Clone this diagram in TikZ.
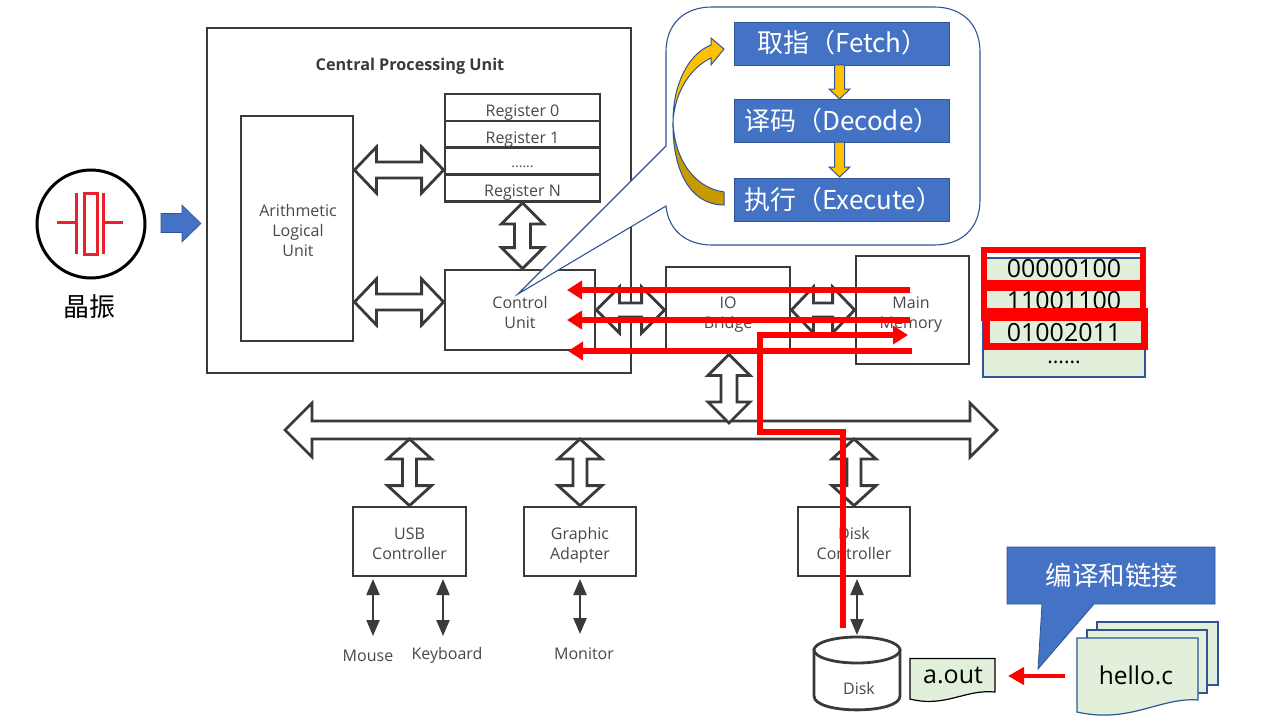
\documentclass[tikz,border=0pt]{standalone}
\usepackage{fontspec}
\setmainfont{Open Sans}
\newfontfamily\cjk{Noto Sans CJK SC}
\usetikzlibrary{calc,arrows.meta}
\definecolor{ink}{HTML}{3A3A3A}
\definecolor{txt}{HTML}{484848}
\definecolor{blu}{HTML}{4472C4}
\definecolor{blb}{HTML}{2F5597}
\definecolor{grn}{HTML}{E2EFDA}
\definecolor{gold}{HTML}{FFC000}
\definecolor{dgold}{HTML}{C99A00}
\definecolor{xred}{HTML}{E8212E}
\newcommand\dblarrow[5]{%
  \coordinate (A) at (#1); \coordinate (B) at (#2);
  \coordinate (sa) at ($(A)!#5!(B)$); \coordinate (sb) at ($(B)!#5!(A)$);
  \draw[dblshape] (A) -- ($(sa)!#3!90:(B)$) -- ($(sa)!#4!90:(B)$) -- ($(sb)!#4!-90:(A)$) -- ($(sb)!#3!-90:(A)$) -- (B)
    -- ($(sb)!#3!90:(A)$) -- ($(sb)!#4!90:(A)$) -- ($(sa)!#4!-90:(B)$) -- ($(sa)!#3!-90:(B)$) -- cycle;}
\tikzset{
  box/.style={draw=ink,line width=2.8pt,fill=white,inner sep=0pt},
  lbl/.style={text=txt,font=\fontsize{16}{20}\selectfont,inner sep=0pt,align=center},
  regcell/.style={box,minimum width=155pt,minimum height=27pt},
  dblshape/.style={draw=ink,line width=2.8pt,fill=white,miter limit=10},
  stage/.style={draw=blb,line width=0.8pt,fill=blu,inner sep=0pt,minimum width=215pt,minimum height=43pt},
  stagetext/.style={anchor=west,inner sep=0pt,text=white,font=\cjk\fontsize{26}{30}\selectfont},
  goldshape/.style={draw=blb,line width=1pt,fill=gold},
  rarr/.style={draw=red,line width=5.5pt,-{Triangle[length=15pt,width=18pt]}},
  small/.style={draw=ink,line width=2.2pt,{Triangle[length=16pt,width=13pt]}-{Triangle[length=16pt,width=13pt]}},
  redbox/.style={draw=red,line width=6pt,inner sep=0pt},
  doc/.style={fill=grn,line width=1.2pt},
  big/.style={inner sep=0pt,font=\fontsize{25}{28}\selectfont,text=black},
}
\begin{document}
\begin{tikzpicture}[x=1pt,y=-1pt]
\useasboundingbox (0,0) rectangle (1268,725);
% oscillator
\node[circle,draw=black,line width=3pt,minimum size=108pt,inner sep=0pt] (osc) at (91,224) {};
\draw[xred,line width=3pt] (57,222) -- (76,222) (76,193) -- (76,254) (84,193) rectangle (97,254) (103,193) -- (103,254) (103,222) -- (123,222);
\node[inner sep=0pt,font=\cjk\fontsize{26}{30}\selectfont,text=black] (osclabel) at (89,307) {晶振};
\draw[fill=blu,draw=blb,line width=0.6pt] (161,213.5) -- (182,213.5) -- (182,205) -- (201,223.5) -- (182,242) -- (182,232.5) -- (161,232.5) -- cycle;
% CPU
\node[box,minimum width=424pt,minimum height=345pt] (cpu) at (419,200.5) {};
\node[lbl,text=ink,font=\bfseries\fontsize{16.2}{20}\selectfont] (cputitle) at (410,66) {Central Processing Unit};
\node[box,minimum width=112pt,minimum height=225pt] (alu) at (297,228.5) {};
\node[lbl] (alut) at (298,230.5) {Arithmetic\\Logical\\Unit};
\node[regcell] (r0) at (522.5,107.5) {};
\node[regcell] (r1) at (522.5,134.5) {};
\node[regcell] (r2) at (522.5,161) {};
\node[regcell] (rn) at (522.5,188) {};
\node[lbl] (r0t) at (522.5,113) {Register 0};
\node[lbl] (r1t) at (522.5,140) {Register 1};
\node[lbl,font=\fontsize{14}{16}\selectfont] (r2t) at (522.5,167) {......};
\node[lbl] (rnt) at (522.5,192.5) {Register N};
\node[box,minimum width=150pt,minimum height=80pt] (cu) at (520,310) {};
\node[lbl] (cut) at (520,312) {Control\\Unit};
\coordinate (ya) at (0,170); \coordinate (yb) at (0,302);
\dblarrow{alu.east |- ya}{r2.west |- ya}{23pt}{8pt}{22pt}
\dblarrow{alu.east |- yb}{cu.west |- yb}{23pt}{8pt}{22pt}
\dblarrow{rn.south}{rn.south |- cu.north}{21pt}{8pt}{21pt}
% IO / memory
\node[box,minimum width=124pt,minimum height=86pt] (io) at (728,310) {};
\node[lbl] (iot) at (728,315) {IO\\Bridge};
\node[box,minimum width=113pt,minimum height=108pt] (mem) at (912.5,310) {};
\node[lbl] (memt) at (911,315) {Main\\Memory};
\dblarrow{cu.east}{io.west}{23pt}{7pt}{23pt}
\dblarrow{io.east}{mem.west}{23pt}{7pt}{22pt}
% bus
\coordinate (busl) at (285,430); \coordinate (busr) at (997,430);
\dblarrow{busl}{busr}{27pt}{9pt}{27pt}
\coordinate (bustop) at (729,423);
\dblarrow{bustop}{io.south -| bustop}{21pt}{8pt}{21pt}
% controllers
\node[box,minimum width=113pt,minimum height=69pt] (usb) at (409.5,541.5) {};
\node[box,minimum width=112pt,minimum height=69pt] (gfx) at (580,541.5) {};
\node[box,minimum width=112pt,minimum height=69pt] (dc) at (854,541.5) {};
\node[lbl] (usbt) at (409.5,543.5) {USB\\Controller};
\node[lbl] (gfxt) at (580,545) {Graphic\\Adapter};
\node[lbl] (dct) at (854,543.5) {Disk\\Controller};
\coordinate (yc) at (0,439);
\dblarrow{usb.north |- yc}{usb.north}{22pt}{7pt}{20pt}
\dblarrow{gfx.north |- yc}{gfx.north}{22pt}{7pt}{20pt}
\dblarrow{dc.north |- yc}{dc.north}{22pt}{7pt}{20pt}
\node[lbl] (mouse) at (368,656) {Mouse};
\node[lbl] (kbd) at (447,655.5) {Keyboard};
\node[lbl] (mon) at (584,654) {Monitor};
\coordinate (u1) at (373,579); \coordinate (m1) at (373,636);
\coordinate (u2) at (443,579); \coordinate (k1) at (443,636);
\coordinate (g1) at (580,579); \coordinate (m2) at (580,634);
\coordinate (d1) at (857,579); \coordinate (d2) at (857,635);
\draw[small] (u1) -- (m1);
\draw[small] (u2) -- (k1);
\draw[small] (g1) -- (m2);
\draw[small] (d1) -- (d2);
% disk
\draw[draw=ink,line width=2.8pt,fill=white] (814,650) -- (814,696) .. controls (814,714.5) and (900,714.5) .. (900,696) -- (900,650) -- cycle;
\draw[draw=ink,line width=2.8pt,fill=white] (857,650) ellipse[x radius=43,y radius=13];
\node[lbl] (disklabel) at (859,688) {Disk};
% a.out
\draw[doc,draw=black] (910,658.5) -- (995,658.5) -- (995,692) .. controls (965,689) and (945,708) .. (910,699) -- cycle;
\node[big] (aout) at (953,675.5) {a.out};
% hello.c
\draw[doc,draw=blb] (1097,622) -- (1218,622) -- (1218,685) -- (1097,685) -- cycle;
\draw[doc,draw=blb] (1087,630) -- (1207,630) -- (1207,693) -- (1087,693) -- cycle;
\draw[doc,draw=blb] (1077,638) -- (1198,638) -- (1198,700) .. controls (1160,697) and (1130,724) .. (1077,712) -- cycle;
\node[big,font=\fontsize{24.5}{28}\selectfont] (hello) at (1136,675.5) {hello.c};
\coordinate (ha) at (1065,676); \coordinate (ab) at (1008,676);
\draw[red,line width=4pt,-{Triangle[length=16pt,width=17pt]}] (ha) -- (ab);
\draw[draw=blb,line width=0.8pt,fill=blu] (1007,547) -- (1215,547) -- (1215,604) -- (1094,604) -- (1038,669) -- (1042,604) -- (1007,604) -- cycle;
\node[inner sep=0pt,text=white,font=\cjk\fontsize{26.5}{30}\selectfont] (cc) at (1112,575) {编译和链接};
% memory table
\draw[draw=blb,line width=1.1pt,fill=grn] (983,258) rectangle (1145,377);
\node[big] (b0) at (1064,268.5) {00000100};
\node[big] (b1) at (1064,301) {11001100};
\node[big] (b2) at (1064,332.5) {01002011};
\node[big,font=\fontsize{21}{24}\selectfont] (b3) at (1064,362) {......};
\node[redbox,minimum width=159pt,minimum height=33pt] (rb0) at (1063,266.5) {};
\node[redbox,minimum width=159pt,minimum height=30pt] (rb1) at (1063,302.5) {};
\node[redbox,line width=7pt,minimum width=158pt,minimum height=35pt] (rb2) at (1065,329) {};
% callout
\draw[blb,line width=1.1pt,fill=white]
 (666,146) -- (518,294) -- (666,206) .. controls (668,228) and (684,245) .. (712,245)
 -- (934,245) .. controls (962,245) and (980,228) .. (980,200) -- (980,52) .. controls (980,24) and (962,7) .. (934,7)
 -- (712,7) .. controls (684,7) and (666,24) .. (666,52) -- cycle;
\node[stage] (fetch) at (841.5,43.5) {};
\node[stage] (decode) at (841.5,120.5) {};
\node[stage] (exec) at (841.5,199.5) {};
\node[stagetext] (tf) at (757,43) {取指（Fetch）};
\node[stagetext] (td) at (744,120.5) {译码（Decode）};
\node[stagetext] (te) at (744,200) {执行（Execute）};
\draw[goldshape] (834.5,65) -- (844.5,65) -- (844.5,89) -- (850,89) -- (839.5,99) -- (829,89) -- (834.5,89) -- cycle;
\draw[goldshape] (834.5,142) -- (844.5,142) -- (844.5,167) -- (850,167) -- (839.5,177) -- (829,167) -- (834.5,167) -- cycle;
% curved arrow
\draw[fill=dgold,draw=blb,line width=1pt] (724,192) .. controls (695,188) and (674,160) .. (673,121) .. controls (672,170) and (690,205) .. (724,205) -- cycle;
\draw[goldshape] (724,49) -- (711,38) -- (711,45) .. controls (688,54) and (673,85) .. (673,121) .. controls (675,92) and (690,68) .. (711,58) -- (711,65) -- cycle;
% red signal lines
\coordinate (l1) at (910,290); \coordinate (l1e) at (567,290);
\coordinate (l2) at (910,320); \coordinate (l2e) at (567,320);
\coordinate (l3) at (912,351); \coordinate (l3e) at (568,351);
\draw[rarr] (l1) -- (l1e);
\draw[rarr] (l2) -- (l2e);
\draw[rarr] (l3) -- (l3e);
\coordinate (ds) at (843,628); \coordinate (mm) at (908,335);
\draw[rarr] (ds) |- (760,432) |- (mm);
\end{tikzpicture}
\end{document}
